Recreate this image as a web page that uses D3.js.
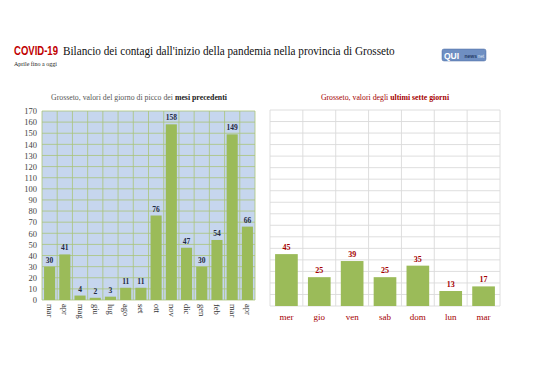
<!DOCTYPE html>
<html><head><meta charset="utf-8">
<script src="https://cdn.jsdelivr.net/npm/d3@7"></script>
<style>body{margin:0;background:#fff}svg{display:block}</style>
</head><body>
<script>
const monthLabels = ["mar","apr","mag","giu","lug","ago","set","ott","nov","dic","gen","feb","mar","apr"];
const monthValues = [30,41,4,2,3,11,11,76,158,47,30,54,149,66];
const dayLabels = ["mer","gio","ven","sab","dom","lun","mar"];
const dayValues = [45,25,39,25,35,13,17];
const yTicks = d3.range(0,171,10);

const W=538,H=380;
const svg=d3.select("body").append("svg").attr("width",W).attr("height",H);
const serif="'Liberation Serif','DejaVu Serif',serif";
const sans="'Liberation Sans','Open Sans',sans-serif";

// horizontally squeeze a text to a target width (keeps glyph height)
function squeeze(sel,x,y,target){
  const w=sel.node().getComputedTextLength();
  sel.attr("transform",`translate(${x},${y}) scale(${target/w},1)`);
}

// Title
const t1=svg.append("text").attr("font-family",sans).attr("font-weight","bold").attr("font-size",12)
 .attr("fill","#c00000").text("COVID-19");
squeeze(t1,14,55,44);
const t2=svg.append("text").attr("font-family",serif).attr("font-size",13.5).attr("fill","#111")
 .text("Bilancio dei contagi dall'inizio della pandemia nella provincia di Grosseto");
squeeze(t2,63,55,332);
svg.append("text").attr("x",14).attr("y",65.5).attr("font-family",serif).attr("font-size",6).attr("fill","#222").text("Aprile fino a oggi");

// Logo
const lg=svg.append("g").attr("transform","translate(442,49)");
lg.append("rect").attr("width",44).attr("height",12).attr("rx",2).attr("fill","#6f8fc2").attr("stroke","#4a6aa0").attr("stroke-width",0.5);
lg.append("text").attr("x",2).attr("y",9.8).attr("font-family",sans).attr("font-weight","bold").attr("font-size",8.5).attr("fill","#fff").text("QUI");
lg.append("text").attr("x",22.5).attr("y",9).attr("font-family",sans).attr("font-weight","bold").attr("font-size",5).attr("fill","#243a66").text("news");
lg.append("text").attr("x",35.5).attr("y",9).attr("font-family",sans).attr("font-size",4.8).attr("fill","#dde6f5").text("net");

// LEFT CHART
const L={x0:42,x1:255,y0:111,y1:300};
const xL=d3.scaleBand().domain(d3.range(monthLabels.length)).range([L.x0,L.x1]).paddingInner(0.27).paddingOuter(0.135);
const xLgrid=d3.scaleLinear().domain([0,monthLabels.length]).range([L.x0,L.x1]);
const yL=d3.scaleLinear().domain([0,170]).range([L.y1,L.y0]);
svg.append("rect").attr("x",L.x0).attr("y",L.y0).attr("width",L.x1-L.x0).attr("height",L.y1-L.y0).attr("fill","#c6d6ee");
const gl=svg.append("g").attr("stroke","#a9c47a").attr("stroke-width",0.8);
gl.selectAll("line.h").data(yTicks).join("line").attr("x1",L.x0).attr("x2",L.x1).attr("y1",d=>yL(d)).attr("y2",d=>yL(d));
gl.selectAll("line.v").data(d3.range(monthLabels.length+1)).join("line").attr("class","v").attr("x1",d=>xLgrid(d)).attr("x2",d=>xLgrid(d)).attr("y1",L.y0).attr("y2",L.y1);
const axL=svg.append("g").attr("transform",`translate(${L.x0-3},0)`).call(d3.axisLeft(yL).tickValues(yTicks).tickSize(0).tickPadding(2));
axL.select(".domain").remove();
axL.selectAll("text").attr("font-family",serif).attr("font-size",8.5).attr("fill","#444");
svg.append("g").selectAll("rect").data(monthValues).join("rect")
 .attr("x",(d,i)=>xL(i)).attr("width",xL.bandwidth()).attr("y",d=>yL(d)).attr("height",d=>yL(0)-yL(d)).attr("fill","#9bbb59");
svg.append("g").selectAll("text").data(monthValues).join("text")
 .attr("x",(d,i)=>xL(i)+xL.bandwidth()/2).attr("y",d=>yL(d)-4).attr("text-anchor","middle")
 .attr("font-family",serif).attr("font-weight","bold").attr("font-size",7.5).attr("fill","#1f2a44").text(d=>d);
svg.append("g").selectAll("text").data(monthLabels).join("text")
 .attr("transform",(d,i)=>`translate(${xL(i)+xL.bandwidth()/2-2.5},${L.y1+4}) rotate(90)`)
 .attr("font-family",serif).attr("font-size",8.5).attr("fill","#333").text(d=>d);
const st1=svg.append("text").attr("x",139).attr("y",100).attr("text-anchor","middle").attr("font-family",serif).attr("font-size",7.8).attr("fill","#555");
st1.append("tspan").text("Grosseto, valori del giorno di picco dei ");
st1.append("tspan").attr("font-weight","bold").attr("fill","#222").text("mesi precedenti");

// RIGHT CHART
const R={x0:270,x1:500,y0:110,y1:306};
const xR=d3.scaleBand().domain(d3.range(dayLabels.length)).range([R.x0,R.x1]).paddingInner(0.31).paddingOuter(0.155);
const xRgrid=d3.scaleLinear().domain([0,dayLabels.length]).range([R.x0,R.x1]);
const yR=d3.scaleLinear().domain([0,170]).range([R.y1,R.y0]);
const gr=svg.append("g").attr("stroke","#dadada").attr("stroke-width",0.9);
gr.selectAll("line.h").data(yTicks).join("line").attr("x1",R.x0).attr("x2",R.x1).attr("y1",d=>yR(d)).attr("y2",d=>yR(d));
gr.selectAll("line.v").data(d3.range(dayLabels.length+1)).join("line").attr("class","v").attr("x1",d=>xRgrid(d)).attr("x2",d=>xRgrid(d)).attr("y1",R.y0).attr("y2",R.y1);
svg.append("g").selectAll("rect").data(dayValues).join("rect")
 .attr("x",(d,i)=>xR(i)).attr("width",xR.bandwidth()).attr("y",d=>yR(d)).attr("height",d=>yR(0)-yR(d)).attr("fill","#9bbb59");
svg.append("g").selectAll("text").data(dayValues).join("text")
 .attr("x",(d,i)=>xR(i)+xR.bandwidth()/2).attr("y",d=>yR(d)-4).attr("text-anchor","middle")
 .attr("font-family",serif).attr("font-weight","bold").attr("font-size",8).attr("fill","#a50000").text(d=>d);
svg.append("g").selectAll("text").data(dayLabels).join("text")
 .attr("x",(d,i)=>xR(i)+xR.bandwidth()/2).attr("y",R.y1+14).attr("text-anchor","middle")
 .attr("font-family",serif).attr("font-size",9).attr("fill","#a50000").text(d=>d);
const st2=svg.append("text").attr("x",385).attr("y",100).attr("text-anchor","middle").attr("font-family",serif).attr("font-size",7.8).attr("fill","#a50000");
st2.append("tspan").text("Grosseto, valori degli ");
st2.append("tspan").attr("font-weight","bold").text("ultimi sette giorni");
</script>
</body></html>
